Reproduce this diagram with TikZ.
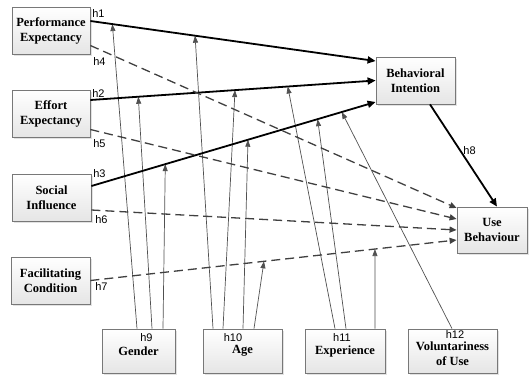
\documentclass[tikz,border=0pt]{standalone}
\usepackage{fontspec}
\setmainfont{Liberation Serif}
\newfontfamily\hfont{Liberation Sans}
\usetikzlibrary{arrows.meta, positioning, calc, shadows, backgrounds}
\definecolor{cLine}{RGB}{64,64,64}
\definecolor{cMod}{RGB}{80,80,80}
\definecolor{cBorder}{RGB}{120,120,120}
\newcommand{\lowr}[1]{\raisebox{-2.5pt}[\height][\depth]{#1}}
\tikzset{
	construct/.style={rectangle, draw=cBorder, line width=0.8pt, top color=white, bottom color=gray!20, minimum width=78pt, minimum height=47pt, inner sep=1pt, align=center, font=\fontsize{12.5}{15}\selectfont\bfseries, drop shadow={shadow xshift=1.5pt, shadow yshift=-1.5pt, fill=gray!45}},
	direct/.style   ={-{Triangle[length=8pt, width=7pt]}, line width=1.8pt, black},
	indirect/.style ={-{Triangle[length=7pt, width=6pt]}, line width=1.3pt, cLine, dash pattern=on 9pt off 5pt},
	moder/.style    ={-{Triangle[length=7pt, width=5pt]}, line width=0.7pt, cMod},
	hyp/.style      ={font=\hfont\fontsize{11}{13}\selectfont, inner sep=0pt},
}
\begin{document}
\begin{tikzpicture}[x=1pt, y=-1pt]
	\useasboundingbox (0,0) rectangle (531,376);
	% constructs
	\node[construct] (pe) at (51,30.5) {Performance\\Expectancy};
	\node[construct] (ee) at (51,113.5) {Effort\\Expectancy};
	\node[construct, minimum width=79pt] (si) at (51.5,197.5) {Social\\Influence};
	\node[construct, minimum width=79pt] (fc) at (50.5,280.5) {Facilitating\\Condition};
	\node[construct, minimum width=79pt] (bi) at (415.5,80.5) {Behavioral\\Intention};
	\node[construct, minimum width=70pt, minimum height=46pt] (ub) at (492,230) {Use\\Behaviour};
	% moderators
	\node[construct, minimum width=73pt, minimum height=44pt] (gen) at (138.5,351) {Gender};
	\node[construct, minimum width=79pt, minimum height=44pt] (age) at (242.5,351) {Age};
	\node[construct, minimum width=80pt, minimum height=44pt] (exp) at (345,351) {Experience};
	\node[construct, minimum width=89pt, minimum height=44pt] (vol) at (452.5,351) {\lowr{Voluntariness}\\\lowr{of Use}};
	% direct paths
	\draw[direct] ([yshift=9.5pt]pe.east) -- coordinate[pos=0.077] (g1) coordinate[pos=0.367] (a1) ([yshift=19.5pt]bi.west);
	\draw[direct] ([yshift=13.5pt]ee.east) -- coordinate[pos=0.168] (g2) coordinate[pos=0.507] (a2) coordinate[pos=0.692] (x2) (bi.west);
	\draw[direct] ([yshift=11.5pt]si.east) -- coordinate[pos=0.26] (g3) coordinate[pos=0.551] (a3) coordinate[pos=0.796] (x3) coordinate[pos=0.881] (v3) ([yshift=-21.5pt]bi.west);
	\draw[direct] ([xshift=14.5pt]bi.south) -- ([xshift=5pt]ub.north);
	% paths to use behaviour
	\draw[indirect] ([yshift=-15pt]pe.east) -- ([yshift=22pt]ub.west);
	\draw[indirect] ([yshift=-16pt]ee.east) -- ([yshift=11pt]ub.west);
	\draw[indirect] ([yshift=-12.5pt]si.east) -- (ub.west);
	\draw[indirect] (fc.east) -- coordinate[pos=0.474] (a7) coordinate[pos=0.777] (x7) ([yshift=-10pt]ub.west);
	% moderating effects
	\begin{scope}[on background layer]
		\draw[moder] ([xshift=-1.5pt]gen.north) -- (g1);
		\draw[moder] ([xshift=13.5pt]gen.north) -- (g2);
		\draw[moder] ([xshift=24.5pt]gen.north) -- (g3);
		\draw[moder] ([xshift=-29.5pt]age.north) -- (a1);
		\draw[moder] ([xshift=-19.5pt]age.north) -- (a2);
		\draw[moder] ([xshift=0.5pt]age.north) -- (a3);
		\draw[moder] ([xshift=11.5pt]age.north) -- (a7);
		\draw[moder] ([xshift=-10pt]exp.north) -- (x2);
		\draw[moder] ([xshift=1pt]exp.north) -- (x3);
		\draw[moder] ([xshift=30pt]exp.north) -- (x7);
		\draw[moder] ([xshift=-0.5pt]vol.north) -- (v3);
	\end{scope}
	% hypothesis labels
	\node[hyp] (l1) at (98.5,14) {h1};
	\node[hyp] (l4) at (99.5,61.5) {h4};
	\node[hyp] (l2) at (98.5,94) {h2};
	\node[hyp] (l5) at (99.5,143.5) {h5};
	\node[hyp] (l3) at (99.5,173.5) {h3};
	\node[hyp] (l6) at (101.5,220) {h6};
	\node[hyp] (l7) at (101.5,286.5) {h7};
	\node[hyp] (l8) at (469.5,151) {h8};
	\node[hyp] (l9) at (146.5,337.5) {h9};
	\node[hyp] (l10) at (233,337.5) {h10};
	\node[hyp] (l11) at (342,337.5) {h11};
	\node[hyp] (l12) at (455,334.5) {h12};
\end{tikzpicture}
\end{document}
